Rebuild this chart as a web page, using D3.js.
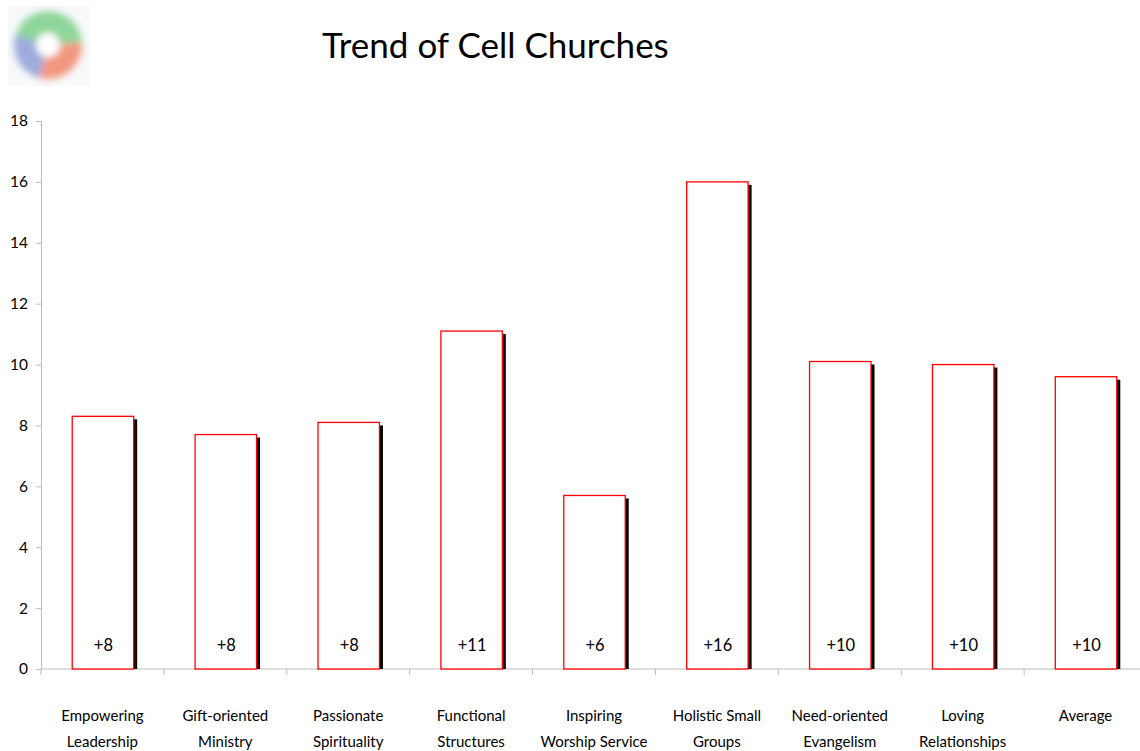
<!DOCTYPE html>
<html><head><meta charset="utf-8">
<script src="https://cdn.jsdelivr.net/npm/d3@7"></script>
<style>body{margin:0;background:#fff;}svg{display:block;font-family:Lato,"Open Sans",sans-serif;}</style>
</head><body>
<svg id="c" width="1140" height="751"></svg>
<script>
const categories = [
  ["Empowering","Leadership"],["Gift-oriented","Ministry"],["Passionate","Spirituality"],
  ["Functional","Structures"],["Inspiring","Worship Service"],["Holistic Small","Groups"],
  ["Need-oriented","Evangelism"],["Loving","Relationships"],["Average"]
];
const values = [8.3, 7.7, 8.1, 11.1, 5.7, 16.0, 10.1, 10.0, 9.6];
const labels = ["+8","+8","+8","+11","+6","+16","+10","+10","+10"];
const yTicks = [0,2,4,6,8,10,12,14,16,18];
const title = "Trend of Cell Churches";

const svg = d3.select("#c");
const x = d3.scaleBand().domain(d3.range(categories.length)).range([41,1147]).paddingInner(0).paddingOuter(0);
const y = d3.scaleLinear().domain([0,18]).range([669,121]);

// logo
const defs = svg.append("defs");
defs.append("filter").attr("id","blur").attr("x","-50%").attr("y","-50%").attr("width","200%").attr("height","200%")
  .append("feGaussianBlur").attr("stdDeviation",3.5);
svg.append("rect").attr("x",8).attr("y",6).attr("width",82).attr("height",80).attr("fill","#f7f9fb");
const logo = svg.append("g").attr("transform","translate(48,45)").attr("filter","url(#blur)");
const arc = d3.arc().innerRadius(12).outerRadius(34);
[[ -1.3, 1.5, "#7ccf88"],[1.5, 3.4, "#f2866a"],[3.4, 5.0, "#8e9ed6"]].forEach(([a0,a1,c])=>{
  logo.append("path").attr("d",arc({startAngle:a0,endAngle:a1})).attr("fill",c).attr("opacity",0.85);
});
logo.append("circle").attr("r",11).attr("fill","#fff");

svg.append("text").attr("x",322).attr("y",58).attr("font-size",35).attr("fill","#000").text(title);

// y axis
const gy = svg.append("g").attr("transform","translate(41,0)")
  .call(d3.axisLeft(y).tickValues(yTicks).tickSize(5).tickPadding(8).tickFormat(d3.format("d")));
gy.select(".domain").attr("stroke","#bbb");
gy.selectAll(".tick line").attr("stroke","#bbb");
gy.selectAll(".tick text").attr("font-size",15.5).attr("font-family","Lato,sans-serif").attr("fill","#000");

// x axis
const gx = svg.append("g").attr("transform","translate(0,669)");
gx.append("line").attr("x1",41).attr("x2",1147).attr("stroke","#bbb");
gx.selectAll("line.t").data(d3.range(categories.length+1)).join("line").attr("class","t")
  .attr("x1",d=>41+d*x.bandwidth()).attr("x2",d=>41+d*x.bandwidth()).attr("y1",0).attr("y2",6).attr("stroke","#bbb");

const bw = x.bandwidth()*0.5;
const bx = i => x(i) + x.bandwidth()/2 - bw/2 + 0.5;
// shadows
svg.append("g").selectAll("rect").data(values).join("rect")
  .attr("x",(d,i)=>bx(i)+3.5).attr("y",d=>y(d)+3).attr("width",bw).attr("height",d=>y(0)-y(d)-3).attr("fill","#000");
// bars
svg.append("g").selectAll("rect").data(values).join("rect")
  .attr("x",(d,i)=>bx(i)).attr("y",d=>y(d)).attr("width",bw).attr("height",d=>y(0)-y(d))
  .attr("fill","#fff").attr("stroke","#f00").attr("stroke-width",1.3);

svg.append("g").selectAll("text").data(labels).join("text")
  .attr("x",(d,i)=>x(i)+x.bandwidth()/2+1).attr("y",651).attr("text-anchor","middle").attr("font-size",16.5).text(d=>d);

const cl = svg.append("g").selectAll("text").data(categories).join("text")
  .attr("text-anchor","middle").attr("font-size",15);
cl.each(function(d,i){
  const t = d3.select(this);
  d.forEach((line,j)=>t.append("tspan").attr("x",x(i)+x.bandwidth()/2).attr("y",721+j*26).text(line));
});
</script>
</body></html>
